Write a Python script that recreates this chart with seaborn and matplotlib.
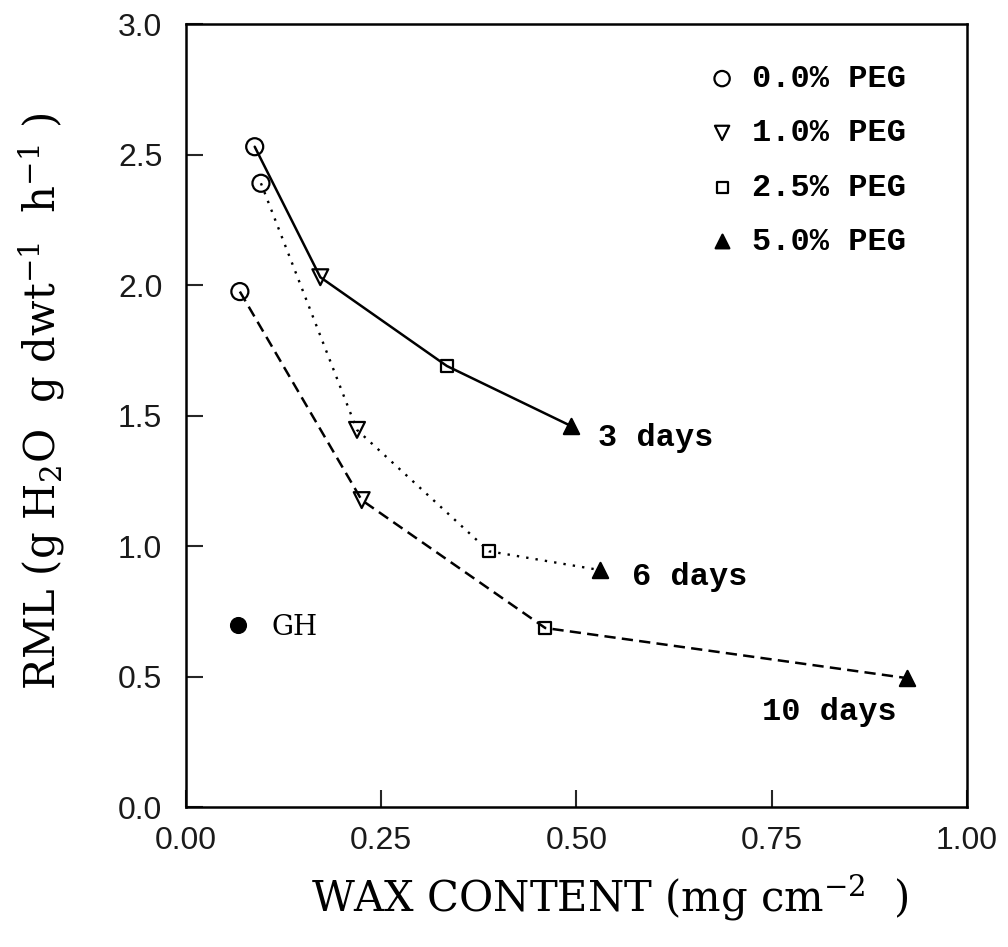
import numpy as np
import pandas as pd
import matplotlib
matplotlib.use("Agg")
import matplotlib.pyplot as plt
import seaborn as sns

# ---- data ----
peg_levels = ["0.0% PEG", "1.0% PEG", "2.5% PEG", "5.0% PEG"]
series_names = ["3 days", "6 days", "10 days"]
wax_3d = [0.088, 0.172, 0.334, 0.493]
rml_3d = [2.53, 2.03, 1.69, 1.46]
wax_6d = [0.096, 0.219, 0.388, 0.530]
rml_6d = [2.39, 1.445, 0.98, 0.908]
wax_10d = [0.069, 0.225, 0.460, 0.923]
rml_10d = [1.975, 1.176, 0.686, 0.494]
gh_wax = [0.067]
gh_rml = [0.697]
x_ticks = [0.00, 0.25, 0.50, 0.75, 1.00]
x_tick_labels = ["0.00", "0.25", "0.50", "0.75", "1.00"]
y_ticks = [0.0, 0.5, 1.0, 1.5, 2.0, 2.5, 3.0]
y_tick_labels = ["0.0", "0.5", "1.0", "1.5", "2.0", "2.5", "3.0"]
# label anchor positions (data units)
series_label_pos = [(0.528, 1.415), (0.571, 0.881), (0.7375, 0.364)]
gh_label_pos = (0.110, 0.686)

rows = []
for name, xs, ys in zip(series_names, [wax_3d, wax_6d, wax_10d], [rml_3d, rml_6d, rml_10d]):
    for peg, x, y in zip(peg_levels, xs, ys):
        rows.append({"series": name, "peg": peg, "wax": x, "rml": y})
df = pd.DataFrame(rows)
gh = pd.DataFrame({"wax": gh_wax, "rml": gh_rml})

sns.set_style("white")
plt.rcParams["mathtext.default"] = "regular"
plt.rcParams["text.color"] = "black"
plt.rcParams["axes.labelcolor"] = "black"

fig = plt.figure(figsize=(10.08, 9.47), dpi=100)
ax = fig.add_axes([0.1845, 0.1478, 0.7748, 0.8268])

line_styles = {"3 days": "-", "6 days": (0, (1, 3)), "10 days": (0, (4.5, 2.5))}
line_widths = {"3 days": 1.8, "6 days": 1.7, "10 days": 1.8}
for name in series_names:
    sub = df[df["series"] == name]
    sns.lineplot(data=sub, x="wax", y="rml", ax=ax, sort=False, estimator=None,
                 color="black", linewidth=line_widths[name], legend=False,
                 linestyle=line_styles[name])
    ax.lines[-1].set_linestyle(line_styles[name])

marker_styles = {
    "0.0% PEG": dict(marker="o", s=150, facecolor="none"),
    "1.0% PEG": dict(marker="v", s=130, facecolor="none"),
    "2.5% PEG": dict(marker="s", s=75, facecolor="none"),
    "5.0% PEG": dict(marker="^", s=120, facecolor="black"),
}
for peg in peg_levels:
    sub = df[df["peg"] == peg]
    st = marker_styles[peg]
    sns.scatterplot(data=sub, x="wax", y="rml", ax=ax, marker=st["marker"], s=st["s"],
                    facecolor=st["facecolor"], edgecolor="black", linewidth=1.6,
                    label=peg, zorder=3)

sns.scatterplot(data=gh, x="wax", y="rml", ax=ax, marker="o", s=130,
                color="black", edgecolor="black", zorder=3, legend=False)

mono = "Liberation Mono"
serif = "DejaVu Serif"
for name, (tx, ty) in zip(series_names, series_label_pos):
    ax.text(tx, ty, name, ha="left", va="center", fontsize=23, family=mono,
            fontweight="bold", color="black")
ax.text(gh_label_pos[0], gh_label_pos[1], "GH", ha="left", va="center",
        fontsize=20, family=serif, color="black")

leg = ax.legend(loc="upper left", bbox_to_anchor=(0.666, 0.949), frameon=False,
                prop={"family": mono, "size": 23, "weight": "bold"},
                handlelength=1.0, handletextpad=0.45, labelspacing=0.76,
                borderpad=0, borderaxespad=0, markerscale=0.9)
for t in leg.get_texts():
    t.set_color("black")

ax.set_xlim(0, 1.0)
ax.set_ylim(0, 3.0)
ax.set_xticks(x_ticks)
ax.set_xticklabels(x_tick_labels)
ax.set_yticks(y_ticks)
ax.set_yticklabels(y_tick_labels)
ax.tick_params(axis="both", direction="in", length=12, width=1.5,
               labelsize=23, bottom=True, left=True, top=False, right=False)
ax.tick_params(axis="x", pad=14)
ax.tick_params(axis="y", pad=17)
for lab in ax.get_xticklabels() + ax.get_yticklabels():
    lab.set_family("Liberation Sans")
    lab.set_color("#1a1a1a")

for sp in ax.spines.values():
    sp.set_visible(True)
    sp.set_linewidth(1.8)
    sp.set_color("black")

ax.set_xlabel(r"WAX CONTENT (mg cm$^{-2}$  )", fontsize=30, family=serif)
ax.set_ylabel(r"RML (g H$_2$O  g dwt$^{-1}$  h$^{-1}$ )", fontsize=30, family=serif)
ax.xaxis.set_label_coords(0.543, -0.083)
ax.yaxis.set_label_coords(-0.152, 0.518)

fig.savefig("out.png", dpi=100, facecolor="white")
